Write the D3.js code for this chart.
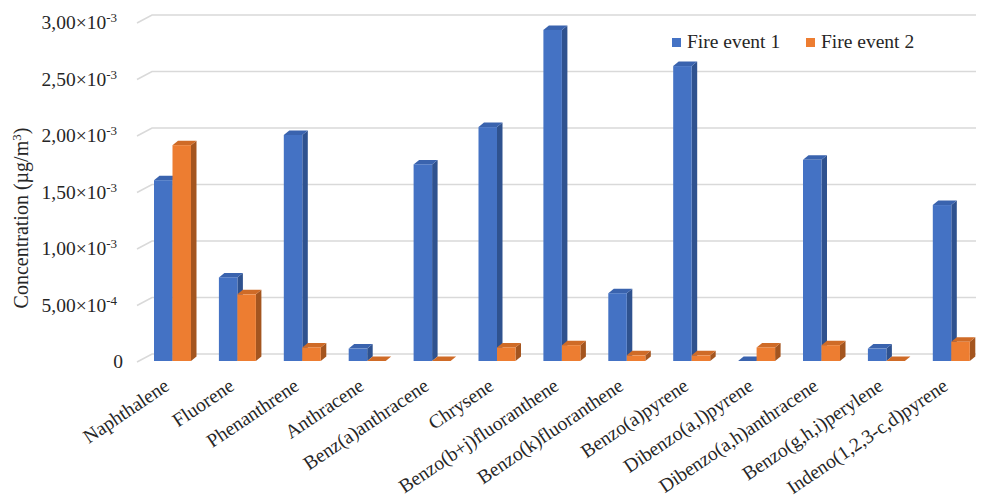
<!DOCTYPE html>
<html>
<head>
<meta charset="utf-8">
<script src="https://cdn.jsdelivr.net/npm/d3@7"></script>
<style>
  html, body { margin: 0; padding: 0; background: #ffffff; }
  svg { display: block; }
  text { font-family: "Liberation Serif", "Times New Roman", serif; fill: #262626; }
</style>
</head>
<body>
<svg id="chart" width="987" height="500"></svg>
<script>
// PAH concentrations measured during two fire events (µg/m³)
const categories = [
  "Naphthalene", "Fluorene", "Phenanthrene", "Anthracene", "Benz(a)anthracene",
  "Chrysene", "Benzo(b+j)fluoranthene", "Benzo(k)fluoranthene", "Benzo(a)pyrene",
  "Dibenzo(a,l)pyrene", "Dibenzo(a,h)anthracene", "Benzo(g,h,i)perylene",
  "Indeno(1,2,3-c,d)pyrene"
];
const seriesNames = ["Fire event 1", "Fire event 2"];
const fireEvent1 = [1.60e-3, 0.74e-3, 2.00e-3, 0.11e-3, 1.74e-3, 2.07e-3, 2.93e-3,
                    0.60e-3, 2.61e-3, 0, 1.78e-3, 0.11e-3, 1.38e-3];
const fireEvent2 = [1.91e-3, 0.59e-3, 0.12e-3, 0, 0, 0.12e-3, 0.14e-3,
                    0.05e-3, 0.05e-3, 0.12e-3, 0.14e-3, 0, 0.17e-3];
const yTicks = [0, 5e-4, 1e-3, 1.5e-3, 2e-3, 2.5e-3, 3e-3];
const yTickMantissa = ["0", "5,00", "1,00", "1,50", "2,00", "2,50", "3,00"];
const yTickExponent = [null, "-4", "-3", "-3", "-3", "-3", "-3"];

const frontColors = ["#4472C4", "#ED7D31"];
const topColors = ["#3A63AE", "#CF6B27"];
const sideColors = ["#2F528F", "#A4551F"];

const svg = d3.select("#chart");
svg.append("rect").attr("width", 987).attr("height", 500).attr("fill", "#ffffff");

// value scale for the front faces of the columns
const y = d3.scaleLinear().domain([0, 3e-3]).range([361, 22]);
// group centres and series offsets within a group
const x = d3.scalePoint().domain(categories).range([172.5, 951.3]);
const inner = d3.scaleBand().domain(seriesNames).range([-18.5, 18.5]);

// depth of the walls / columns (oblique projection)
const wallDx = 15, wallDy = 8;
const colDx = 5.5, colDy = 4.5;
const wallLeft = 137, wallRight = 976;

// gridlines on the back wall with a short floor-edge diagonal at the left
const grid = svg.append("g").attr("stroke", "#d9d9d9").attr("stroke-width", 1.5).attr("fill", "none");
yTicks.forEach(v => {
  const yf = y(v) + 1, yb = y(v) - 7;
  grid.append("path")
    .attr("d", `M${wallLeft},${yf}L${wallLeft + wallDx},${yb}L${wallRight},${yb}`);
});

// y-axis tick labels
const yLab = svg.append("g").attr("font-size", 19.5).attr("text-anchor", "end");
yTicks.forEach((v, i) => {
  const t = yLab.append("text")
    .attr("x", yTickExponent[i] ? 117 : 123)
    .attr("y", y(v) + 7);
  if (yTickExponent[i]) {
    t.append("tspan").text(yTickMantissa[i] + "×10");
    t.append("tspan").attr("font-size", 13).attr("dy", -7).text(yTickExponent[i]);
  } else {
    t.text(yTickMantissa[i]);
  }
});

// axis title
const title = svg.append("text")
  .attr("transform", "translate(28,218) rotate(-90)")
  .attr("text-anchor", "middle")
  .attr("font-size", 20);
title.append("tspan").text("Concentration (µg/m");
title.append("tspan").attr("font-size", 13).attr("dy", -7).text("3");
title.append("tspan").attr("dy", 7).text(")");

// 3-D columns, drawn left to right so each face overlaps its neighbour correctly
const bars = [];
categories.forEach((c, i) => {
  [fireEvent1[i], fireEvent2[i]].forEach((v, s) => bars.push({ c, s, v }));
});
const barG = svg.append("g");
const w = inner.bandwidth();
bars.forEach(b => {
  const x0 = x(b.c) + inner(seriesNames[b.s]);
  const yTop = y(b.v), yBase = y(0);
  const g = barG.append("g");
  // right side face
  g.append("path")
    .attr("d", `M${x0 + w},${yTop}L${x0 + w + colDx},${yTop - colDy}L${x0 + w + colDx},${yBase - colDy}L${x0 + w},${yBase}Z`)
    .attr("fill", sideColors[b.s]);
  // top face
  g.append("path")
    .attr("d", `M${x0},${yTop}L${x0 + colDx},${yTop - colDy}L${x0 + w + colDx},${yTop - colDy}L${x0 + w},${yTop}Z`)
    .attr("fill", topColors[b.s]);
  // front face
  g.append("rect")
    .attr("x", x0).attr("y", yTop)
    .attr("width", w).attr("height", yBase - yTop)
    .attr("fill", frontColors[b.s]);
});

// category labels
const xLab = svg.append("g").attr("font-size", 19.5).attr("text-anchor", "end");
categories.forEach(c => {
  xLab.append("text")
    .attr("transform", `translate(${x(c) - 2},${389}) rotate(-34)`)
    .text(c);
});

// legend
const legend = svg.append("g").attr("font-size", 19.5);
const legendX = [672, 806];
seriesNames.forEach((n, i) => {
  legend.append("rect")
    .attr("x", legendX[i]).attr("y", 38).attr("width", 9).attr("height", 9)
    .attr("fill", frontColors[i]);
  legend.append("text")
    .attr("x", legendX[i] + 15).attr("y", 48)
    .text(n);
});
</script>
</body>
</html>
